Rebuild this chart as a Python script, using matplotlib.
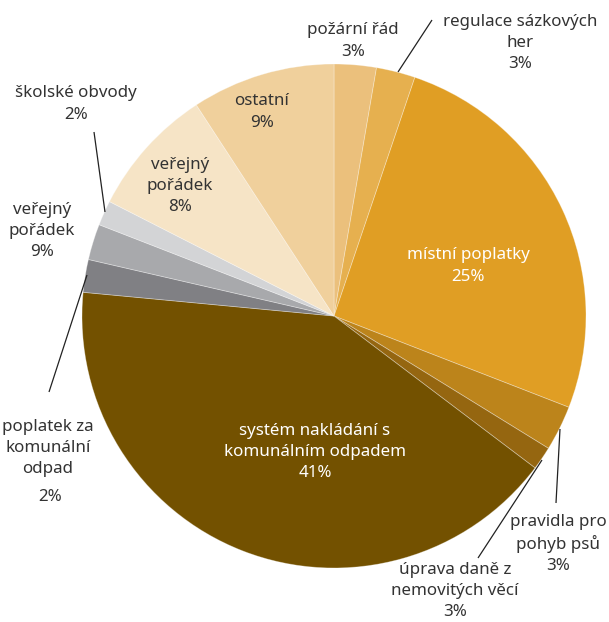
import matplotlib
matplotlib.use("Agg")
import matplotlib.pyplot as plt

plt.rcParams['font.family'] = ['Noto Sans', 'DejaVu Sans']

# Data (clockwise from top)
categories = ["požární řád", "regulace sázkových her", "místní poplatky",
              "pravidla pro pohyb psů", "úprava daně z nemovitých věcí",
              "systém nakládání s komunálním odpadem",
              "poplatek za komunální odpad", "veřejný pořádek (9 %)",
              "školské obvody", "veřejný pořádek (8 %)", "ostatní"]
values = [2.7, 2.5, 25.7, 2.9, 1.5, 41.2, 2.1, 2.3, 1.6, 8.3, 9.2]
pct_labels = ["3%", "3%", "25%", "3%", "3%", "41%", "2%", "9%", "2%", "8%", "9%"]
colors = ["#EBC07C", "#E6B04F", "#E09E24", "#BC841B", "#956610",
          "#735100", "#808084", "#A8A9AC", "#D3D4D6", "#F6E4C6", "#F0D09C"]

W, H = 609, 622
fig = plt.figure(figsize=(W / 100, H / 100), dpi=100)
ax = fig.add_axes([0, 0, 1, 1])

cx, cy, R = 334, H - 316, 252
ax.pie(values, colors=colors, startangle=90, counterclock=False,
       center=(cx, cy), radius=R,
       wedgeprops=dict(edgecolor=(1, 1, 1, 0.35), linewidth=0.6))
ax.set_xlim(0, W)
ax.set_ylim(0, H)
ax.set_aspect('equal')
ax.axis('off')

dark = "#333333"
fs = 12.2


def label(x, y, txt, color=dark, ls=1.42):
    ax.text(x, H - y, txt, ha='center', va='center', fontsize=fs,
            color=color, linespacing=ls)


def leader(x1, y1, x2, y2):
    ax.plot([x1, x2], [H - y1, H - y2], color="#222222", lw=0.9,
            solid_capstyle='butt')


# outside labels
label(353, 41, "požární řád\n" + pct_labels[0])
label(520, 43, "regulace sázkových\nher\n" + pct_labels[1])
label(76, 104, "školské obvody\n" + pct_labels[8])
label(42, 231, "veřejný\npořádek\n" + pct_labels[7])
label(48, 448, "poplatek za\nkomunální\nodpad")
label(50, 497, pct_labels[6])
label(558, 544, "pravidla pro\npohyb psů\n" + pct_labels[3])
label(455, 591, "úprava daně z\nnemovitých věcí\n" + pct_labels[4])

# inside labels
label(262, 112, "ostatní\n" + pct_labels[10])
label(180, 186, "veřejný\npořádek\n" + pct_labels[9])
label(468, 266, "místní poplatky\n" + pct_labels[2], color="white")
label(315, 452, "systém nakládání s\nkomunálním odpadem\n" + pct_labels[5],
      color="white")

# leader lines
leader(398, 72, 432, 20)
leader(94, 132, 105, 212)
leader(49, 392, 87, 275)
leader(560, 429, 556, 503)
leader(542, 460, 478, 558)

fig.savefig("out.png", dpi=100)
